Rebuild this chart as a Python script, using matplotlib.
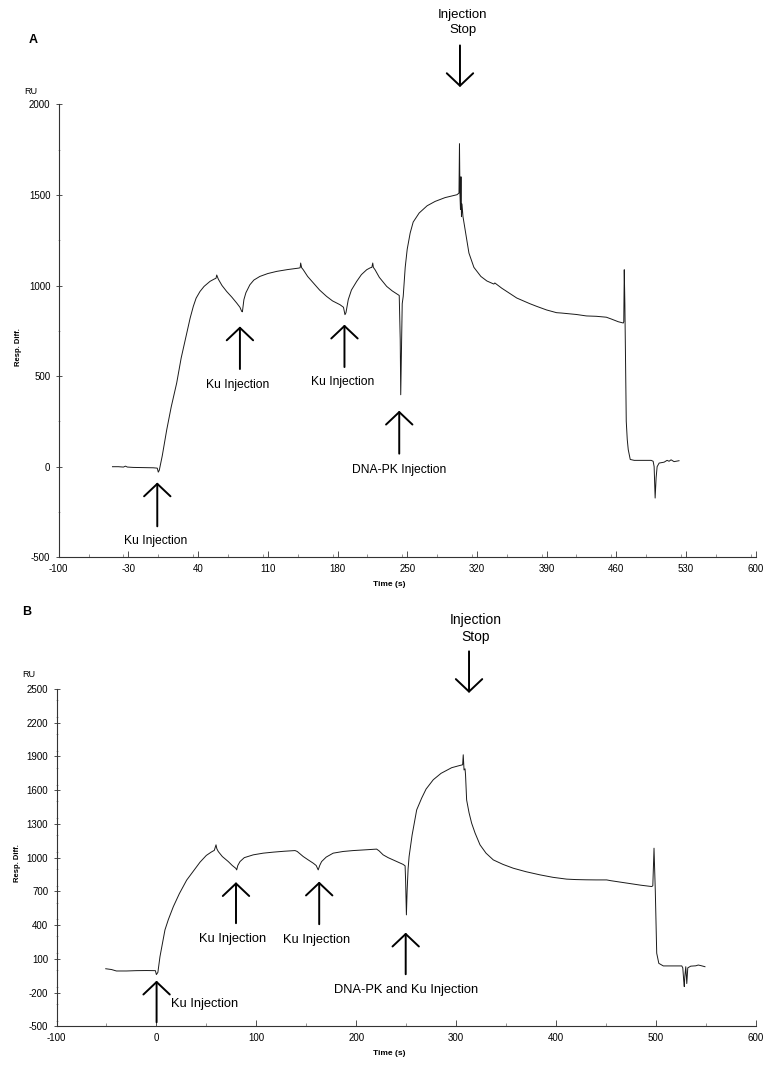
import matplotlib
matplotlib.use("Agg")
import matplotlib.pyplot as plt
from matplotlib.ticker import MultipleLocator

plt.rcParams['font.family'] = ['Liberation Sans', 'DejaVu Sans']
plt.rcParams['axes.unicode_minus'] = False

# ---------------- Panel A data (time s, RU) ----------------
time_a = [-46, -40, -35, -33, -31, -25, -15, -5, -1, 0, 1, 4, 8.5, 13, 18.5, 23, 28.6, 32, 35.2, 38,
          41.9, 46, 52, 56, 58, 58.7, 60.3, 64, 68.7, 74, 78.8, 82, 83.8, 84.5, 86, 88, 92, 96, 102, 110,
          119, 130, 141, 142.5, 143, 144, 145.6, 150, 155.7, 162, 169, 175, 182.5, 186, 187.5, 188.5,
          190.8, 194, 199.3, 204, 209.3, 213, 214.5, 215.4, 216, 217.7, 222, 229.4, 235, 241, 242, 243,
          243.5, 244.3, 245, 246, 248, 250, 253, 256, 262, 270, 278, 288, 300, 302, 302.5, 303, 303.5,
          304, 304.5, 305, 306, 309, 312, 317, 324, 330, 337, 338, 345, 360, 373, 380, 390, 400, 405,
          420, 430, 440, 450, 455, 462, 467, 467.5, 468, 468.6, 469, 469.5, 470, 471, 472, 474, 478,
          485, 495, 497, 498, 499, 500, 501, 503, 508, 511, 513, 515, 518, 523]
resp_a = [0, 0, -2, 3, -2, -4, -5, -6, -8, -30, -20, 60, 204, 330, 462, 600, 738, 820, 885, 930,
          967, 995, 1023, 1035, 1040, 1058, 1035, 1000, 967, 935, 903, 880, 857, 855, 922, 960, 1004, 1030,
          1050, 1066, 1078, 1088, 1096, 1098, 1124, 1098, 1087, 1050, 1014, 975, 940, 915, 894, 880, 839,
          850, 922, 975, 1023, 1060, 1087, 1098, 1100, 1124, 1100, 1087, 1045, 995, 970, 949, 945, 700,
          397, 650, 900, 940, 1100, 1200, 1290, 1350, 1400, 1440, 1464, 1485, 1501, 1510, 1783, 1500, 1420,
          1600, 1380, 1450, 1381, 1280, 1179, 1100, 1050, 1025, 1008, 1014, 985, 931, 900, 885, 865, 850, 848,
          840, 832, 830, 825, 815, 800, 793, 800, 1087, 900, 700, 400, 250, 150, 94, 40, 35,
          35, 35, 30, 0, -173, -60, 0, 20, 25, 35, 30, 38, 28, 33]

# ---------------- Panel B data (time s, RU) ----------------
time_b = [-50.7, -45, -40, -30, -20, -10, -1, 0, 1.5, 3.6, 8.6, 12, 17, 23, 30.3, 37, 43.7, 50, 55, 58,
          59.7, 60.5, 62, 66, 72, 76, 79.5, 80.4, 81.5, 83.7, 88, 97, 107, 117, 128, 138.8, 141, 147, 152,
          157, 160, 162, 163.5, 165.4, 170, 177, 187, 197, 210, 220.5, 223, 227, 232, 237, 242, 247, 249,
          249.5, 250.3, 251, 252, 253, 256, 260.6, 265.6, 270, 277.2, 285, 295.6, 303, 306.6, 307.2, 308,
          309, 309.5, 310.6, 313, 315.6, 319, 324, 330, 337.3, 347, 357.3, 370, 384, 397, 410.7, 420, 430,
          440, 450.8, 455, 470, 485, 495.9, 497, 498.2, 499.5, 500.9, 503, 507.5, 515, 526, 527, 528,
          528.5, 529, 530, 531, 532, 535, 540, 542.5, 545, 549.2]
resp_b = [12, 5, -8, -8, -5, -4, -5, -40, -20, 120, 358, 450, 565, 680, 800, 880, 960, 1020, 1050, 1065,
          1114, 1080, 1054, 1010, 965, 930, 905, 891, 930, 965, 1000, 1025, 1040, 1049, 1057, 1063, 1055,
          1010, 980, 951, 930, 891, 930, 965, 1005, 1040, 1055, 1063, 1070, 1076, 1060, 1025, 1000, 980,
          960, 940, 927, 800, 491, 700, 900, 1010, 1200, 1425, 1530, 1610, 1693, 1750, 1800, 1818, 1826,
          1915, 1780, 1790, 1737, 1513, 1400, 1307, 1220, 1114, 1040, 980, 940, 906, 875, 847, 825, 809,
          805, 803, 802, 802, 795, 775, 755, 743, 750, 1084, 700, 150, 60, 37, 37, 37, 20, -100, -147,
          -60, 30, -120, 20, 35, 38, 45, 40, 30]

# ---------------- annotations: (label, x, arrow tail y, arrow tip y, label x, label y) ----------
arrows_a = [("Ku Injection", -1, -329, -87, -3, -408),
            ("Ku Injection", 82, 539, 774, 80, 452),
            ("Ku Injection", 187, 550, 784, 185, 465),
            ("DNA-PK Injection", 242, 72, 309, 242, -20)]
stop_a = ("Injection\nStop", 303, 2325, 2095, 306, 2451)

arrows_b = [("Ku Injection", 0.2, -464, -94, 48, -301),
            ("Ku Injection", 79.7, 417, 782, 76.4, 277),
            ("Ku Injection", 163, 408, 787, 160.5, 268),
            ("DNA-PK and Ku Injection", 249.6, -37, 333, 249.8, -177)]
stop_b = ("Injection\nStop", 313, 2835, 2465, 320, 3039)

xticks_a = [-100, -30, 40, 110, 180, 250, 320, 390, 460, 530, 600]
yticks_a = [-500, 0, 500, 1000, 1500, 2000]
xticks_b = [-100, 0, 100, 200, 300, 400, 500, 600]
yticks_b = [-500, -200, 100, 400, 700, 1000, 1300, 1600, 1900, 2200, 2500]

W, H = 777, 1076
fig = plt.figure(figsize=(W / 100, H / 100), dpi=100)


def px_axes(l, r, t, b):
    return fig.add_axes([l / W, 1 - b / H, (r - l) / W, (b - t) / H])


ax_a = px_axes(58.7, 755.7, 104.3, 557.3)
ax_b = px_axes(56.5, 755.7, 689, 1026.3)


def style(ax, xt, yt, xminor, yminor):
    ax.set_xlim(xt[0], xt[-1])
    ax.set_ylim(yt[0], yt[-1])
    ax.set_xticks(xt)
    ax.set_yticks(yt)
    ax.xaxis.set_minor_locator(MultipleLocator(xminor))
    ax.yaxis.set_minor_locator(MultipleLocator(yminor))
    for s in ['top', 'right']:
        ax.spines[s].set_visible(False)
    for s in ['left', 'bottom']:
        ax.spines[s].set_linewidth(0.8)
        ax.spines[s].set_color('#333333')
    ax.tick_params(axis='x', which='major', direction='in', length=4, width=0.6, pad=5,
                   labelsize=7, colors='#333333', labelcolor='black')
    ax.tick_params(axis='x', which='minor', direction='in', length=2, width=0.5, colors='#666666')
    ax.tick_params(axis='y', which='major', direction='inout', length=4, width=0.6, pad=4,
                   labelsize=7, colors='#333333', labelcolor='black')
    ax.tick_params(axis='y', which='minor', direction='inout', length=2, width=0.5, colors='#888888')
    ax.patch.set_alpha(0)


style(ax_a, xticks_a, yticks_a, 35, 250)
style(ax_b, xticks_b, yticks_b, 50, 150)

ax_a.plot(time_a, resp_a, color='#1a1a1a', lw=0.7)
ax_b.plot(time_b, resp_b, color='#1a1a1a', lw=0.7)


def arrow(ax, x, y0, y1):
    ax.annotate('', xy=(x, y1), xytext=(x, y0), annotation_clip=False,
                arrowprops=dict(arrowstyle='->,head_length=0.9,head_width=0.95',
                                mutation_scale=10, lw=1.4, color='black',
                                shrinkA=0, shrinkB=0))


for ax, arrs, stop, fs, fss in [(ax_a, arrows_a, stop_a, 8.7, 9.5), (ax_b, arrows_b, stop_b, 9.3, 10)]:
    for lab, x, y0, y1, lx, ly in arrs:
        arrow(ax, x, y0, y1)
        ax.text(lx, ly, lab, ha='center', va='center', fontsize=fs, clip_on=False)
    lab, x, y0, y1, lx, ly = stop
    arrow(ax, x, y0, y1)
    ax.text(lx, ly, lab, ha='center', va='center', fontsize=fss, clip_on=False,
            linespacing=1.25)


def ftext(x, y, s, **kw):
    fig.text(x / W, 1 - y / H, s, **kw)


ftext(33, 40, "A", fontsize=9, fontweight='bold', ha='center', va='center')
ftext(27, 612, "B", fontsize=9, fontweight='bold', ha='center', va='center')
ftext(31, 91, "RU", fontsize=6.5, ha='center', va='center')
ftext(29.3, 674.3, "RU", fontsize=6.5, ha='center', va='center')
ftext(18.3, 346.7, "Resp. Diff.", fontsize=5.5, fontweight='bold', rotation=90, ha='center', va='center')
ftext(17.3, 863.3, "Resp. Diff.", fontsize=5.5, fontweight='bold', rotation=90, ha='center', va='center')
ftext(389.5, 585, "Time (s)", fontsize=6, fontweight='bold', ha='center', va='center')
ftext(389, 1053.3, "Time (s)", fontsize=6, fontweight='bold', ha='center', va='center')

fig.savefig("out.png", dpi=100, facecolor='white')
